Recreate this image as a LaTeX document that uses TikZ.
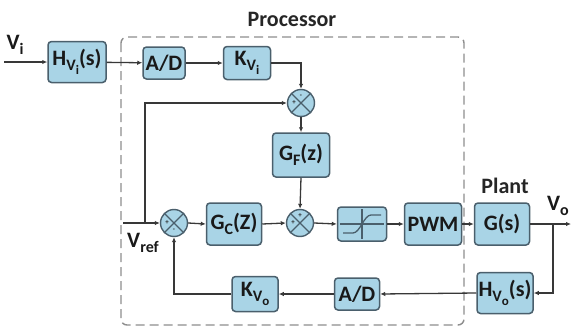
\documentclass[tikz,border=0pt]{standalone}
\usepackage{fontspec}
\setmainfont{Carlito}
\usetikzlibrary{arrows.meta,calc}
\definecolor{boxfill}{HTML}{A9D4E6}
\definecolor{boxline}{HTML}{4A5F6C}
\definecolor{wire}{HTML}{383838}
\definecolor{dashc}{HTML}{8E8E8E}
\newcommand{\lbl}{\fontsize{22}{24}\selectfont\bfseries}
\newcommand{\mysub}[1]{\raisebox{-0.45ex}{\fontsize{16}{17}\selectfont #1}}
\newcommand{\mysubsub}[1]{\raisebox{-0.5ex}{\fontsize{13}{14}\selectfont #1}}
\tikzset{
  blk/.style={draw=boxline, fill=boxfill, rounded corners=3.5pt, line width=1.5pt,
    inner sep=0pt, font=\lbl, text=black!90},
  sumj/.style={circle, draw=boxline, fill=boxfill, line width=1.4pt, minimum size=27pt, inner sep=0pt,
    path picture={\draw[boxline, line width=1.4pt]
      (path picture bounding box.south west) -- (path picture bounding box.north east)
      (path picture bounding box.north west) -- (path picture bounding box.south east);}},
  wireln/.style={draw=wire, line width=1.3pt},
  arr/.style={wireln, -{Latex[length=5pt,width=4.5pt]}},
  sgn/.style={font=\fontsize{7}{7}\selectfont\bfseries, text=black!85, inner sep=0pt}
}
\begin{document}
\begin{tikzpicture}[x=1pt,y=-1pt]
\useasboundingbox (0,0) rectangle (571,327);
% processor frame
\draw[dashc, line width=1.4pt, dash pattern=on 9pt off 5pt, rounded corners=6pt] (121,37) rectangle (464,325);
\node[font=\fontsize{22}{24}\selectfont\bfseries, text=black!85] (proc) at (292,19) {Processor};
% blocks
\node[blk, minimum width=58pt, minimum height=41pt] (hvi) at (77,62) {H\mysub{V\mysubsub{i}}(s)};
\node[blk, minimum width=42pt, minimum height=32pt] (ad1) at (164,63) {A/D};
\node[blk, minimum width=47pt, minimum height=33pt] (kvi) at (247,63) {K\mysub{V\mysubsub{i}}};
\node[sumj] (s1) at (301,103) {};
\node[blk, minimum width=57pt, minimum height=44pt] (gf) at (301,155) {G\mysub{F}(z)};
\node[sumj] (s2) at (174,223) {};
\node[blk, minimum width=55pt, minimum height=42pt] (gc) at (234,224) {G\mysub{C}(Z)};
\node[sumj] (s3) at (300,223) {};
\node[blk, minimum width=49pt, minimum height=34pt] (sat) at (362,224) {};
\node[blk, minimum width=57pt, minimum height=42pt] (pwm) at (433,224) {PWM};
\node[blk, minimum width=55pt, minimum height=42pt] (gs) at (502,224) {G(s)};
\node[blk, minimum width=56pt, minimum height=41pt] (hvo) at (505,293) {H\mysub{V\mysubsub{o}}(s)};
\node[blk, minimum width=45pt, minimum height=32pt] (ad2) at (357,294) {A/D};
\node[blk, minimum width=46pt, minimum height=35pt] (kvo) at (255,294) {K\mysub{V\mysubsub{o}}};
% saturation symbol
\draw[boxline, line width=1.1pt] ($(sat.west)+(3,0)$) -- ($(sat.east)+(-3,0)$);
\draw[boxline, line width=1.1pt] ($(sat.north)+(0,3)$) -- ($(sat.south)+(0,-3)$);
\draw[boxline, line width=1.3pt] ($(sat.center)+(-19,9)$) -- ($(sat.center)+(-9,9)$)
  .. controls ($(sat.center)+(-2,9)$) and ($(sat.center)+(2,-9)$) .. ($(sat.center)+(9,-9)$) -- ($(sat.center)+(19,-9)$);
% sign marks
\node[sgn] (s1l) at ($(s1)+(-7,0)$) {+};
\node[sgn] (s1t) at ($(s1)+(0,-7)$) {-};
\node[sgn] (s2l) at ($(s2)+(-7,0)$) {+};
\node[sgn] (s2b) at ($(s2)+(0,7)$) {-};
\node[sgn] (s3l) at ($(s3)+(-7,0)$) {+};
\node[sgn] (s3t) at ($(s3)+(0,-7)$) {+};
% labels
\node[font=\lbl, text=black!90] (vil) at (15,45) {V\mysub{i}};
\node[font=\lbl, text=black!90] (vol) at (558,206) {V\mysub{o}};
\node[font=\lbl, text=black!90] (vrl) at (143,243) {V\mysub{ref}};
\node[font=\fontsize{22}{24}\selectfont\bfseries, text=black!85] (plant) at (505,186) {Plant};
% coordinates
\coordinate (vin) at (4,62);
\coordinate (vref) at (123,223);
\coordinate (br) at (145,223);
\coordinate (vo) at (553,224);
\coordinate (vend) at (571,224);
% connectors
\draw[arr] (vin) -- (hvi);
\draw[arr] (hvi) -- (ad1);
\draw[arr] (ad1) -- (kvi);
\draw[arr] (kvi.east) -| (s1.north);
\draw[arr] (vref) -- (s2.west);
\draw[arr] (br) |- (s1.west);
\draw[arr] (s1.south) -- (gf.north);
\draw[arr] (gf.south) -- (s3.north);
\draw[arr] (s2.east) -- (gc.west);
\draw[arr] (gc.east) -- (s3.west);
\draw[arr] (s3.east) -- (sat.west);
\draw[arr] (sat.east) -- (pwm.west);
\draw[arr] (pwm.east) -- (gs.west);
\draw[wireln] (gs.east) -- (vo);
\draw[arr] (vo) -- (vend);
\draw[arr] (vo) |- (hvo.east);
\draw[arr] (hvo.west) -- (ad2.east);
\draw[arr] (ad2.west) -- (kvo.east);
\draw[arr] (kvo.west) -| (s2.south);
\end{tikzpicture}
\end{document}
